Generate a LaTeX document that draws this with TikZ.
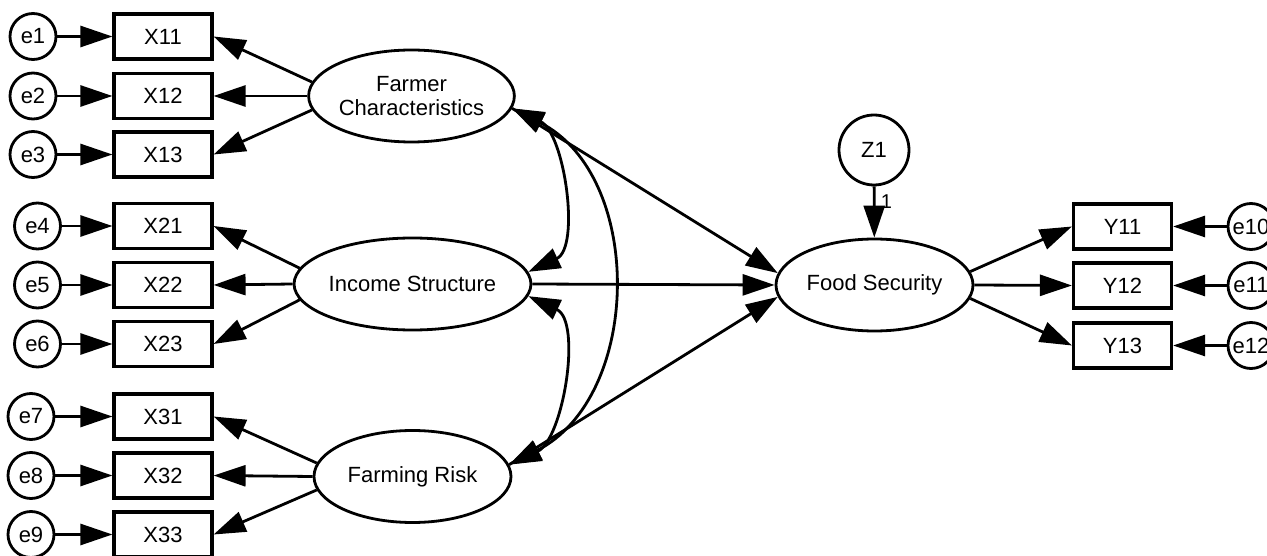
\documentclass[tikz,border=0pt]{standalone}
\usepackage{fontspec}
\setmainfont{Liberation Sans}
\usetikzlibrary{arrows.meta,shapes.geometric}

\begin{document}
\begin{tikzpicture}[x=1pt,y=1pt,
  font=\fontsize{22}{24}\selectfont,
  obs/.style={draw,line width=3.2pt,minimum width=98pt,minimum height=45pt,inner sep=0pt},
  err/.style={draw,circle,line width=2.8pt,minimum size=46pt,inner sep=0pt},
  lat/.style={draw,ellipse,line width=2.8pt,minimum width=197pt,minimum height=92pt,inner sep=0pt,align=center},
  reg/.style={-{Triangle[length=32pt,width=21pt]},line width=2.8pt},
  cov/.style={{Triangle[length=32pt,width=21pt]}-{Triangle[length=32pt,width=21pt]},line width=2.8pt}]
\useasboundingbox (0,0) rectangle (1267,-556);

% measurement side (exogenous)
\foreach \e/\ex/\x/\yy in {e1/33/X11/36.5, e2/33/X12/96, e3/33/X13/154.5,
                            e4/37.5/X21/226, e5/37.5/X22/285, e6/37.5/X23/344,
                            e7/31/X31/416.5, e8/31/X32/475.5, e9/31/X33/534.5} {
  \node[err] (\e) at (\ex,-\yy) {\e};
  \node[obs] (\x) at (163,-\yy) {\x};
  \draw[reg] (\e) -- (\x);
}

% latent variables
\node[lat] (FC) at (411.5,-96) {Farmer\\Characteristics};
\node[lat] (IS) at (412.5,-284) {Income Structure};
\node[lat] (FR) at (412.5,-476.5) {Farming Risk};
\node[lat] (FS) at (874.5,-285) {Food Security};
\node[err,minimum size=70pt] (Z1) at (874,-150) {Z1};

\foreach \l/\a/\b/\c in {FC/X11/X12/X13, IS/X21/X22/X23, FR/X31/X32/X33} {
  \draw[reg] (\l.172) -- (\a.east);
  \draw[reg] (\l.west) -- (\b.east);
  \draw[reg] (\l.188) -- (\c.east);
}

% measurement side (endogenous)
\foreach \e/\w/\yy in {e10/Y11/226.5, e11/Y12/285.5, e12/Y13/345.5} {
  \node[obs] (\w) at (1122.5,-\yy) {\w};
  \node[err] (\e) at (1251,-\yy) {\e};
  \draw[reg] (\e) -- (\w);
}
\draw[reg] (FS.8) -- (Y11.west);
\draw[reg] (FS.east) -- (Y12.west);
\draw[reg] (FS.352) -- (Y13.west);

% structural paths
\draw[reg] (FC.353) -- (FS.173);
\draw[reg] (IS.east) -- (FS.west);
\draw[reg] (FR.7) -- (FS.187);
\draw[reg] (Z1) -- (FS) node[pos=0.3,right=2pt,font=\fontsize{20}{22}\selectfont] (one) {1};

% covariances
\draw[cov] (FC.353) to[out=-25,in=25,looseness=0.9] (IS.6);
\draw[cov] (IS.-6) to[out=-25,in=25,looseness=0.9] (FR.7);
\draw[cov] (FC.353) to[out=-27,in=27,looseness=1.07] (FR.7);
\end{tikzpicture}
\end{document}
